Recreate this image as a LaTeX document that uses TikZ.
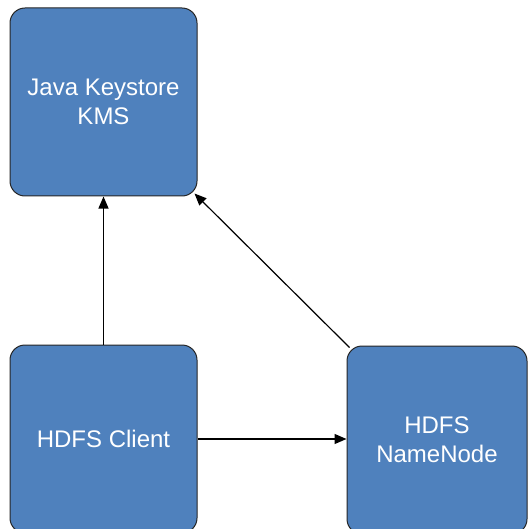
\documentclass[tikz,border=0pt]{standalone}
\usepackage{fontspec}
\setmainfont{Liberation Sans}
\usetikzlibrary{arrows.meta}
\definecolor{boxblue}{RGB}{79,129,189}
\begin{document}
\begin{tikzpicture}[x=1pt, y=1pt]
    \tikzstyle{box}=[draw=black!85, line width=1pt, fill=boxblue, rounded corners=15pt, text=white, align=center, font=\fontsize{24}{29}\selectfont, inner sep=0pt]
    \tikzstyle{link}=[line width=1.2pt, -{Triangle[length=12pt, width=10pt]}]
    \useasboundingbox (0,0) rectangle (528,-529);
    \node [box, minimum width=187pt, minimum height=188pt] (kms) at (103.5,-102) {Java Keystore\\KMS};
    \node [box, minimum width=187pt, minimum height=188pt] (client) at (103.5,-439) {HDFS Client};
    \node [box, minimum width=180pt, minimum height=188pt] (nn) at (437,-440) {HDFS\\NameNode};
    \draw [link] (client.north) -- (kms.south);
    \draw [link] (client.east) -- (client.east -| nn.west);
    \draw [link] ([shift={(3pt,-2pt)}]nn.north west) -- ([shift={(-3pt,3pt)}]kms.south east);
\end{tikzpicture}
\end{document}
